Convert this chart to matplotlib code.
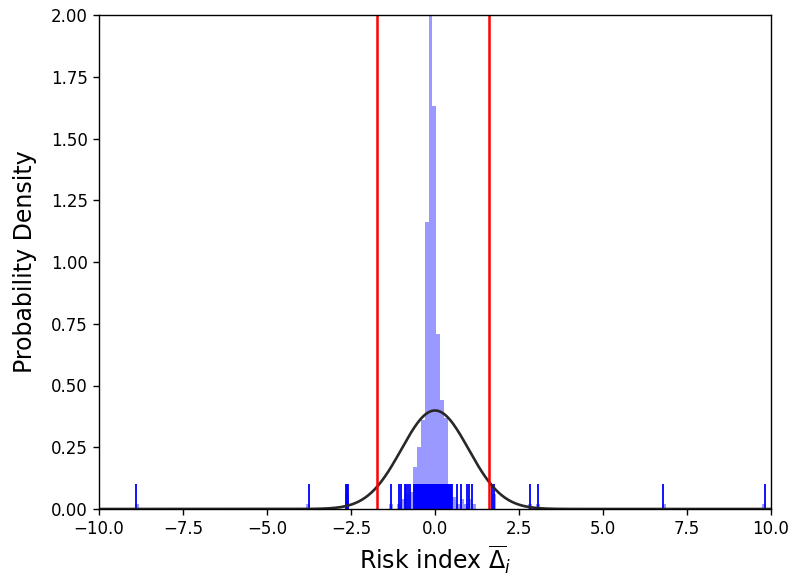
import numpy as np
import matplotlib
matplotlib.use("Agg")
import matplotlib.pyplot as plt

# ---- data ----
bin_width = 0.118
hist_left = [-8.925, -3.851, -2.671, -1.373, -1.137, -1.019, -0.901, -0.783,
             -0.665, -0.547, -0.429, -0.311, -0.193, -0.075, 0.043, 0.161,
             0.279, 0.397, 0.515, 0.633, 0.751, 0.869, 0.987, 1.105,
             1.695, 2.757, 2.993, 6.769, 9.719]
hist_density = [0.02, 0.02, 0.06, 0.02, 0.02, 0.04, 0.06, 0.07,
                0.17, 0.25, 0.36, 1.16, 2.63, 1.63, 0.71, 0.44,
                0.37, 0.09, 0.05, 0.02, 0.04, 0.02, 0.04, 0.02,
                0.06, 0.02, 0.02, 0.02, 0.02]

rug_x = [-8.89, -3.76, -2.64, -2.61, -2.58, -1.30, -1.06, -1.00,
         -0.90, -0.85, -0.80, -0.73,
         -0.63, -0.60, -0.57, -0.54, -0.51, -0.48, -0.45, -0.42, -0.39,
         -0.36, -0.33, -0.30, -0.27, -0.24, -0.21, -0.18, -0.15, -0.12,
         -0.09, -0.06, -0.03, 0.00, 0.03, 0.06, 0.09, 0.12, 0.15, 0.18,
         0.21, 0.24, 0.27, 0.30, 0.33, 0.36, 0.39, 0.42, 0.45, 0.48, 0.51,
         0.66, 0.76, 0.94, 1.01, 1.11,
         1.70, 1.76, 2.84, 3.06, 6.78, 9.81]

fit_mu = 0.0
fit_sigma = 1.0
threshold_low = -1.72
threshold_high = 1.60

x_ticks = [-10.0, -7.5, -5.0, -2.5, 0.0, 2.5, 5.0, 7.5, 10.0]
y_ticks = [0.00, 0.25, 0.50, 0.75, 1.00, 1.25, 1.50, 1.75, 2.00]

# ---- figure ----
fig = plt.figure(figsize=(7.92, 5.80), dpi=100)
ax = fig.add_axes([99 / 792, 1 - 509 / 580, 672 / 792, 494 / 580])

ax.bar(hist_left, hist_density, width=bin_width, align="edge",
       color="blue", alpha=0.4, linewidth=0)

ax.vlines(rug_x, 0, 0.05, transform=ax.get_xaxis_transform(),
          color="blue", linewidth=1.3)

xs = np.linspace(-10, 10, 600)
pdf = np.exp(-0.5 * ((xs - fit_mu) / fit_sigma) ** 2) / (fit_sigma * np.sqrt(2 * np.pi))
ax.plot(xs, pdf, color="#282828", linewidth=1.9)

ax.axvline(threshold_low, color="red", linewidth=1.8)
ax.axvline(threshold_high, color="red", linewidth=1.8)

ax.set_xlim(-10, 10)
ax.set_ylim(0, 2)
ax.set_xticks(x_ticks)
ax.set_xticklabels([f"{t:.1f}".replace("-", "\u2212") for t in x_ticks])
ax.set_yticks(y_ticks)
ax.set_yticklabels([f"{t:.2f}" for t in y_ticks])
ax.tick_params(labelsize=12, length=4.5, width=1.0)
for s in ax.spines.values():
    s.set_linewidth(1.0)

ax.set_xlabel(r"Risk index $\overline{\Delta}_i$", fontsize=17)
ax.set_ylabel("Probability Density", fontsize=17)
ax.yaxis.set_label_coords(-0.092, 0.5)

fig.savefig("out.png", dpi=100)
